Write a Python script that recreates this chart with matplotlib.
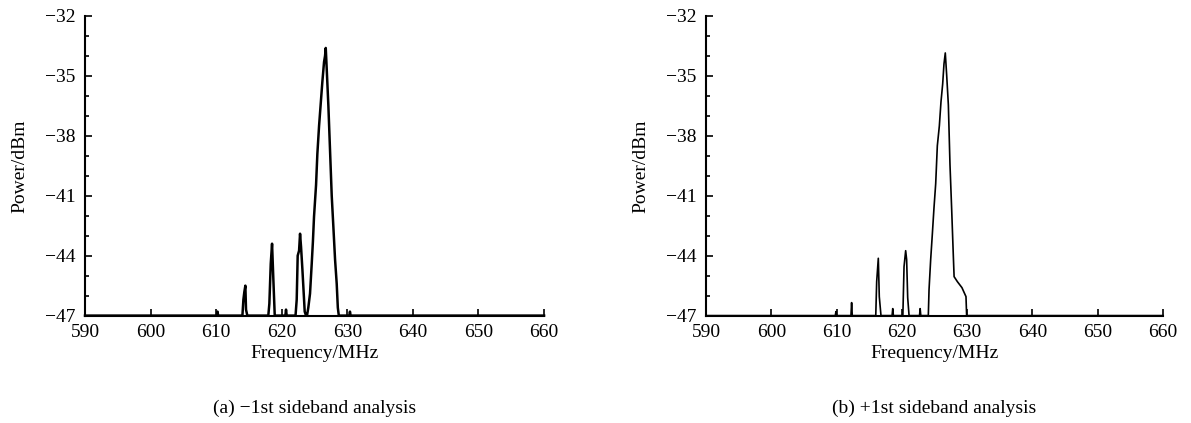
import matplotlib.pyplot as plt
from matplotlib.ticker import MultipleLocator

plt.rcParams['font.family'] = ['Liberation Serif', 'DejaVu Serif']

# (a) -1st sideband: traced spectrum points (MHz, dBm)
freq_a = [590, 610.1, 610.2, 610.3,
          614.0, 614.15, 614.3, 614.45, 614.55, 614.75,
          617.95, 618.11, 618.32, 618.52, 618.72, 618.93,
          620.55, 620.65, 620.75,
          622.1, 622.28, 622.43, 622.64, 622.79, 622.94, 623.15, 623.35, 623.5, 623.7,
          623.85, 624.05, 624.31, 624.57, 624.75, 624.92, 625.23, 625.43, 625.69,
          625.94, 626.19, 626.45, 626.6, 626.71, 626.85, 627.11, 627.36, 627.62,
          627.87, 628.13, 628.38, 628.55, 628.7,
          630.3, 630.4, 630.5, 660]
power_a = [-47, -47, -46.8, -47,
           -47, -46.2, -45.8, -45.5, -46.7, -47,
           -47, -46.4, -44.4, -43.4, -45.2, -47,
           -47, -46.7, -47,
           -47, -46.2, -44.0, -43.75, -42.9, -43.55, -44.7, -45.9, -46.8, -47,
           -47, -46.6, -45.9, -44.4, -43.3, -42.05, -40.46, -38.9, -37.5,
           -36.4, -35.3, -34.3, -34.0, -33.6, -34.6, -36.5, -38.7, -41.0,
           -42.55, -44.2, -45.4, -46.6, -47,
           -47, -46.8, -47, -47]

# (b) +1st sideband
freq_b = [590, 609.8, 609.9, 610.0,
          612.2, 612.3, 612.4,
          616.0, 616.14, 616.39, 616.54, 616.8,
          618.5, 618.6, 618.7,
          620.15, 620.33, 620.58, 620.73, 620.89, 621.1,
          622.7, 622.8, 622.9,
          624.05, 624.16, 624.41, 624.67, 624.92, 625.18, 625.43, 625.74, 625.99,
          626.25, 626.45, 626.65, 626.86, 627.12, 627.37, 627.63, 627.88, 628.0,
          628.5, 629.2, 629.82, 629.92, 660]
power_b = [-47, -47, -46.8, -47,
           -47, -46.35, -47,
           -47, -45.3, -44.13, -46.05, -47,
           -47, -46.65, -47,
           -47, -44.55, -43.75, -44.2, -46.1, -47,
           -47, -46.65, -47,
           -47, -45.7, -44.2, -42.9, -41.6, -40.4, -38.5, -37.5, -36.3,
           -35.4, -34.4, -33.85, -34.95, -36.45, -39.45, -41.7, -44.0, -45.05,
           -45.3, -45.6, -46.05, -47, -47]

xticks = [590, 600, 610, 620, 630, 640, 650, 660]
yticks = [-47, -44, -41, -38, -35, -32]

fig = plt.figure(figsize=(11.91, 4.23), dpi=100)
ax1 = fig.add_axes([0.0714, 0.2539, 0.3854, 0.7083])
ax2 = fig.add_axes([0.5928, 0.2539, 0.3837, 0.7083])

panels = [(ax1, freq_a, power_a, 1.8, '(a) \u22121st sideband analysis'),
          (ax2, freq_b, power_b, 1.2, '(b) +1st sideband analysis')]

for ax, f, p, lw, caption in panels:
    ax.plot(f, p, color='black', linewidth=lw, clip_on=False)
    ax.set_xlim(590, 660)
    ax.set_ylim(-47, -32)
    ax.set_xticks(xticks)
    ax.set_yticks(yticks)
    ax.yaxis.set_minor_locator(MultipleLocator(1))
    ax.spines['top'].set_visible(False)
    ax.spines['right'].set_visible(False)
    ax.spines['left'].set_linewidth(1.5)
    ax.spines['bottom'].set_linewidth(1.5)
    ax.tick_params(which='both', direction='in', labelsize=14, width=1.2)
    ax.tick_params(axis='x', which='major', length=5, pad=6)
    ax.tick_params(axis='y', which='major', length=5, pad=7)
    ax.tick_params(axis='y', which='minor', length=3)
    ax.set_xlabel('Frequency/MHz', fontsize=14, labelpad=3)
    ax.set_ylabel('Power/dBm', fontsize=14, labelpad=12)
    ax.text(0.5, -0.31, caption, transform=ax.transAxes, ha='center', va='center',
            fontsize=14)

plt.savefig('out.png', dpi=100)
